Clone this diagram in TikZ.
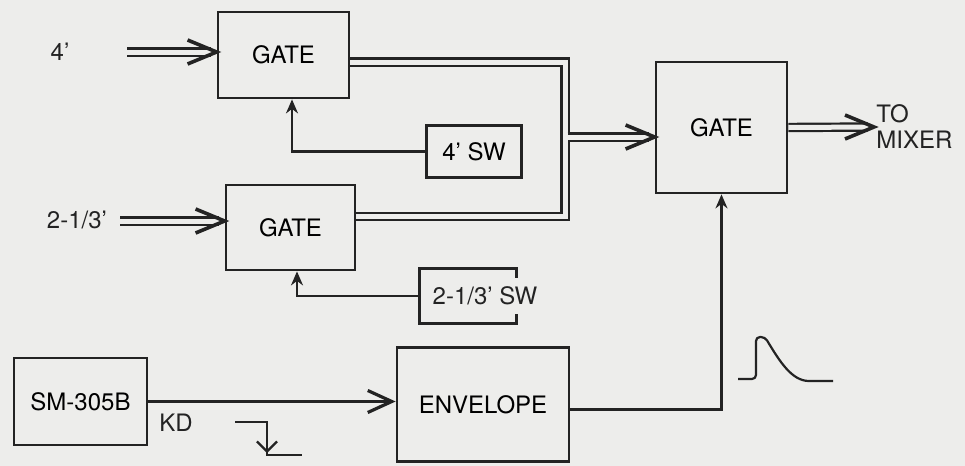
\documentclass[tikz,border=0pt]{standalone}
\usepackage{fontspec}
\setmainfont{TeX Gyre Heros}
\usetikzlibrary{arrows.meta,calc,positioning}
\definecolor{paper}{HTML}{EDEDEB}
\definecolor{ink}{HTML}{232323}

\begin{document}
\begin{tikzpicture}[x=0.5pt, y=-0.5pt, font=\fontsize{12}{14}\selectfont,
    block/.style={draw=ink, fill=paper, line width=1.4pt, rectangle, align=center, inner sep=0pt},
    dbl/.style={draw=ink, double=paper, double distance=2.5pt, line width=1.1pt},
    dblarrow/.style={dbl, shorten >=3pt},
    chevron/.pic={\draw[ink, line width=1.8pt, line join=miter] (-29,-12) -- (0,0) -- (-29,12);},
    sig/.style={draw=ink, line width=1.1pt, -{Stealth[length=7pt, width=6pt]}},
    label/.style={text=ink, inner sep=1pt, align=left}]

    \fill[paper] (0,0) rectangle (965,466);
    \useasboundingbox (0,0) rectangle (965,466);

    % Blocks
    \node[block, minimum width=65.5pt, minimum height=43pt] (gatefour) at (283.5,55) {GATE};
    \node[block, minimum width=64.5pt, minimum height=42.5pt] (gatetwo) at (290.5,227.5) {GATE};
    \node[block, minimum width=47.5pt, minimum height=26pt] (swfour) at (474,151.5) {4' SW};
    \node[block, draw=none, minimum width=47pt, minimum height=26pt] (swtwo) at (468,296) {};
    \node[block, minimum width=65.5pt, minimum height=65.5pt] (gatemain) at (721.5,127.5) {GATE};
    \node[block, minimum width=86pt, minimum height=57pt] (env) at (483,404.5) {ENVELOPE};
    \node[block, minimum width=66.5pt, minimum height=43.5pt] (sm) at (80.5,401.5) {SM-305B};

    % 2-1/3' switch box, text runs over its right side
    \draw[ink, line width=1.4pt] ($(swtwo.north east)+(0,9)$) |- (swtwo.north west)
        |- (swtwo.south east) -- ++(0,-9);
    \node[label] (swtwotext) at ($(swtwo)+(17,0)$) {2-1/3' SW};

    % Labels
    \node[label] (infour) at (60,52) {4'};
    \node[label] (intwo) at (77,220) {2-1/3'};
    \node[label, anchor=west] (mixer) at (874,127) {TO\\[-1pt]MIXER};
    \node[label] (kd) at (176,423) {KD};

    % Free ends
    \coordinate (srcfour) at (127,52);
    \coordinate (srctwo) at (120,221);
    \coordinate (bus) at (565,137);

    % Inputs
    \draw[dblarrow] (srcfour) -- (srcfour -| gatefour.west);
    \pic at (srcfour -| gatefour.west) {chevron};
    \draw[dblarrow] (srctwo) -- (srctwo -| gatetwo.west);
    \pic at (srctwo -| gatetwo.west) {chevron};

    % Merged outputs
    \draw[dbl] ($(gatefour.east)+(0,7)$) -| (bus);
    \draw[dbl] ($(gatetwo.east)+(0,-11)$) -| (bus);
    \draw[dblarrow] ($(bus)+(2.5,0)$) -- (bus -| gatemain.west);
    \pic at (bus -| gatemain.west) {chevron};
    \draw[dblarrow] (gatemain.east) -- (mixer.west);
    \pic at (mixer.west) {chevron};

    % Switches
    \draw[sig] (swfour.west) -| ($(gatefour.south)+(8.5,0)$);
    \draw[sig] (swtwo.west) -| ($(gatetwo.south)+(6.5,0)$);

    % Key down and envelope
    \draw[draw=ink, line width=1.1pt, -{Straight Barb[length=12pt, width=11pt, line width=1.6pt]}] (sm.east) -- (sm.east -| env.west);
    \draw[sig] ($(env.east)+(0,5)$) -| (gatemain.south);

    % Waveforms
    \draw[ink, line width=1.1pt] (235,422) -- (267,422) -- (267,455) -- (302,455);
    \draw[ink, line width=1.1pt, -{Straight Barb[length=5pt, width=10pt]}] (267,430) -- (267,453);
    \draw[ink, line width=1.1pt, rounded corners=2pt] (738,379) -- (756,379) -- (756,337) -- (765,337)
        .. controls (780,362) and (792,381) .. (813,381) -- (833,381);

\end{tikzpicture}
\end{document}
